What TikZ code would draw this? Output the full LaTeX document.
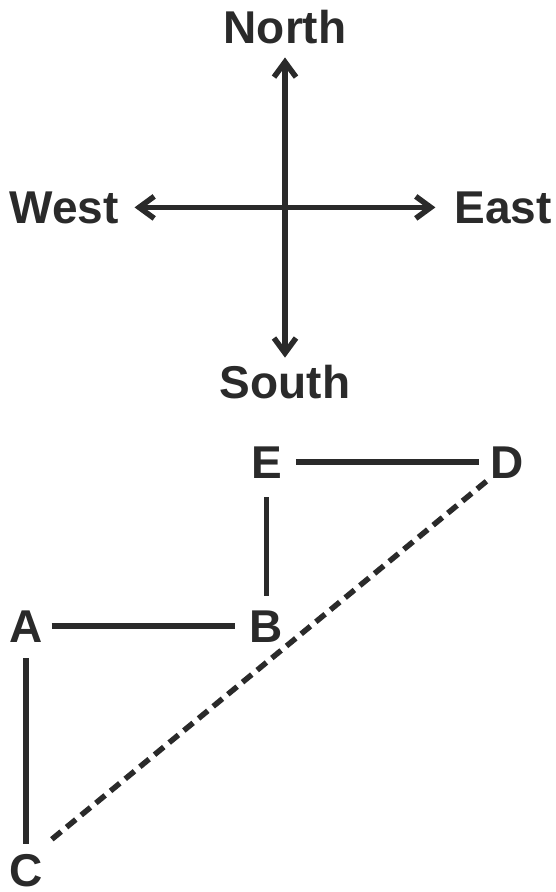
\documentclass[tikz,border=0pt]{standalone}
\usepackage{fontspec}
\setmainfont{Liberation Sans}
\usetikzlibrary{arrows.meta,calc}
\definecolor{ink}{RGB}{42,42,42}
\begin{document}
\begin{tikzpicture}[x=1pt,y=-1pt,
  lbl/.style={font=\fontsize{46}{46}\selectfont\bfseries, text=ink, inner sep=0pt, outer sep=0pt, anchor=base},
  edge/.style={draw=ink, line width=5.5pt},
  barb/.tip={Straight Barb[length=15pt,width=22pt]},
  dir/.style={edge, barb-barb},
  dashedge/.style={edge, dash pattern=on 12pt off 7pt}]
\useasboundingbox (0,0) rectangle (556,892);
% compass
\node[lbl] (N) at (285,43) {North};
\node[lbl] (S) at (285,398) {South};
\node[lbl] (W) at (64,223) {West};
\node[lbl] (Ea) at (503,223) {East};
\draw[dir, shorten <=14pt, shorten >=7pt] (N) -- (S);
\draw[dir, shorten <=16pt, shorten >=19pt] (W) -- (Ea);
% graph
\node[lbl] (nE) at (266.5,478) {E};
\node[lbl] (nD) at (507,478) {D};
\node[lbl] (nB) at (266.5,642) {B};
\node[lbl] (nA) at (26,642) {A};
\node[lbl] (nC) at (26,886) {C};
\draw[edge, shorten <=16pt, shorten >=10pt] (nA) -- (nC);
\draw[edge, shorten <=14pt, shorten >=11pt] (nE) -- (nD);
\draw[edge, shorten <=19pt, shorten >=14pt] (nE) -- (nB);
\draw[edge, shorten <=9pt, shorten >=15pt] (nA) -- (nB);
\draw[dashedge, shorten <=12pt, shorten >=3pt] ([yshift=7pt]nC.north east) -- (nD.south west);
\end{tikzpicture}
\end{document}
